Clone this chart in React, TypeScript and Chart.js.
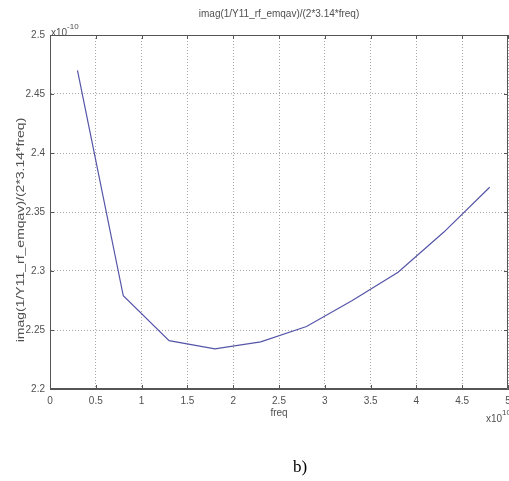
import React, { useEffect, useRef } from "react";
import { Chart, registerables } from "chart.js";

Chart.register(...registerables);

// Frequency in units of 1e10 Hz
const freqs = [0.3, 0.8, 1.3, 1.8, 2.3, 2.8, 3.3, 3.8, 4.3, 4.8];
// imag(1/Y11)/(2*3.14*freq) in units of 1e-10
const values = [2.47, 2.279, 2.241, 2.234, 2.24, 2.253, 2.275, 2.299, 2.333, 2.371];

const xTickLabels = ["0", "0.5", "1", "1.5", "2", "2.5", "3", "3.5", "4", "4.5", "5"];
const yTickLabels = ["2.2", "2.25", "2.3", "2.35", "2.4", "2.45", "2.5"];

const titleText = "imag(1/Y11_rf_emqav)/(2*3.14*freq)";
const yLabelText = "imag(1/Y11_rf_emqav)/(2*3.14*freq)";
const xLabelText = "freq";
const xExp = "10";
const yExp = "-10";
const caption = "b)";

const SANS = "'Liberation Sans', Arial, sans-serif";
const TXT = "#505050";

const decorPlugin = {
  id: "decor",
  afterDraw(chart: any) {
    const { ctx, chartArea } = chart;
    const { left, right, top, bottom } = chartArea;
    const xs = chart.scales.x;
    const ys = chart.scales.y;
    ctx.save();
    // box top/right and bottom/left solid
    ctx.strokeStyle = "#555";
    ctx.lineWidth = 1;
    ctx.setLineDash([]);
    ctx.beginPath();
    ctx.moveTo(left + 0.5, bottom - 0.5);
    ctx.lineTo(left + 0.5, top + 0.5);
    ctx.lineTo(right - 0.5, top + 0.5);
    ctx.lineTo(right - 0.5, bottom - 0.5);
    ctx.lineTo(left + 0.5, bottom - 0.5);
    ctx.stroke();
    // inward ticks
    ctx.beginPath();
    xs.ticks.forEach((t: any) => {
      const px = Math.round(xs.getPixelForValue(t.value)) + 0.5;
      ctx.moveTo(px, bottom);
      ctx.lineTo(px, bottom - 4);
      ctx.moveTo(px, top);
      ctx.lineTo(px, top + 4);
    });
    ys.ticks.forEach((t: any) => {
      const py = Math.round(ys.getPixelForValue(t.value)) + 0.5;
      ctx.moveTo(left, py);
      ctx.lineTo(left + 4, py);
      ctx.moveTo(right, py);
      ctx.lineTo(right - 4, py);
    });
    ctx.stroke();

    ctx.fillStyle = TXT;
    // title
    ctx.font = `10px ${SANS}`;
    ctx.textAlign = "center";
    ctx.textBaseline = "middle";
    ctx.fillText(titleText, (left + right) / 2, 14);

    // y exponent
    ctx.textAlign = "left";
    ctx.font = `10px ${SANS}`;
    ctx.fillText("x10", left + 1, top - 2);
    const w1 = ctx.measureText("x10").width;
    ctx.font = `8px ${SANS}`;
    ctx.fillText(yExp, left + 1 + w1, top - 8);

    // x exponent
    ctx.font = `10px ${SANS}`;
    ctx.fillText("x10", 486, 419);
    const w2 = ctx.measureText("x10").width;
    ctx.font = `8px ${SANS}`;
    ctx.fillText(xExp, 486 + w2, 413);

    // y label (stretched along its length)
    ctx.save();
    ctx.translate(21, 230);
    ctx.rotate(-Math.PI / 2);
    ctx.scale(1.4, 1);
    ctx.font = `10px ${SANS}`;
    ctx.textAlign = "center";
    ctx.textBaseline = "middle";
    ctx.fillText(yLabelText, 0, 0);
    ctx.restore();

    // caption
    ctx.fillStyle = "#000";
    ctx.font = "17px 'Liberation Serif', 'Times New Roman', serif";
    ctx.textAlign = "center";
    ctx.textBaseline = "middle";
    ctx.fillText(caption, 300, 468);
    ctx.restore();
  },
};

export default function App() {
  const ref = useRef<HTMLCanvasElement>(null);
  useEffect(() => {
    if (!ref.current) return;
    const chart = new Chart(ref.current, {
      type: "line",
      data: {
        datasets: [
          {
            data: freqs.map((f, i) => ({ x: f, y: values[i] })),
            borderColor: "#5555a8",
            borderWidth: 1.2,
            pointRadius: 0,
            fill: false,
            tension: 0,
          },
        ],
      },
      options: {
        animation: false,
        responsive: false,
        events: [],
        layout: { padding: { top: 35, left: 0, right: 1, bottom: 62 } },
        plugins: { legend: { display: false }, tooltip: { enabled: false }, title: { display: false } },
        scales: {
          x: {
            type: "linear",
            min: 0,
            max: 5,
            ticks: {
              stepSize: 0.5,
              padding: 6,
              color: TXT,
              font: { family: SANS, size: 10 },
              maxRotation: 0,
              autoSkip: false,
              callback: (_v: any, i: number) => xTickLabels[i],
            },
            grid: { color: "#a8a8a8", lineWidth: 1, drawTicks: false },
            border: { color: "#555", width: 1, dash: [1, 2] } as any,
            title: { display: true, text: xLabelText, color: TXT, font: { family: SANS, size: 10 }, padding: { top: 0, bottom: 0 } },
            afterFit: (s: any) => {
              s.height = 30;
              s.paddingRight = 0;
            },
          },
          y: {
            type: "linear",
            min: 2.2,
            max: 2.5,
            ticks: {
              stepSize: 0.05,
              padding: 5,
              color: TXT,
              font: { family: SANS, size: 10 },
              autoSkip: false,
              callback: (_v: any, i: number) => yTickLabels[i],
            },
            grid: { color: "#a8a8a8", lineWidth: 1, drawTicks: false },
            border: { color: "#555", width: 1, dash: [1, 2] } as any,
            afterFit: (s: any) => {
              s.width = 50;
            },
          },
        },
      },
      plugins: [decorPlugin],
    });
    return () => chart.destroy();
  }, []);
  return (
    <div style={{ position: "absolute", left: 0, top: 0, width: 509, height: 481, background: "#fff" }}>
      <canvas ref={ref} width={509} height={481} />
    </div>
  );
}
